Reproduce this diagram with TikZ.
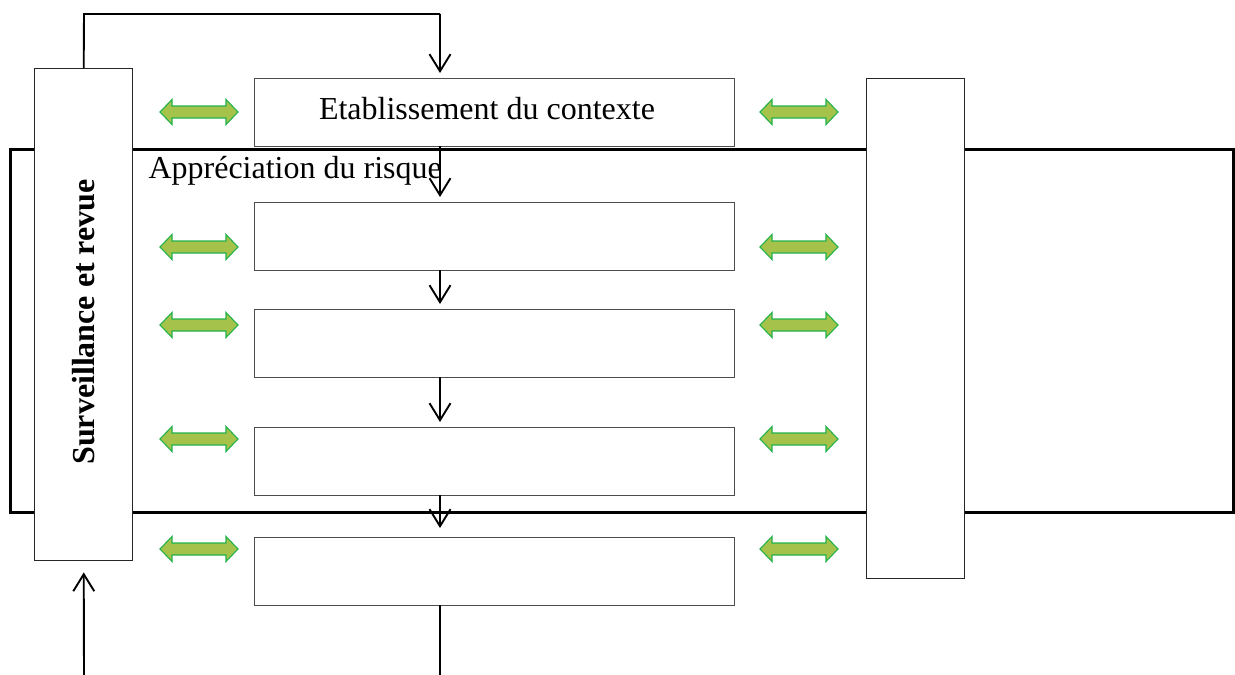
\documentclass[tikz,border=0pt]{standalone}
\usepackage{fontspec}
\setmainfont{Liberation Serif}
\usetikzlibrary{arrows.meta}
\definecolor{arrowfill}{HTML}{A5C24A}
\definecolor{arrowedge}{HTML}{22B24C}
\begin{document}
\begin{tikzpicture}[x=1pt,y=-1pt,
  stagebox/.style={draw=black!70,line width=1.4pt,fill=white,minimum width=480pt,minimum height=68pt,inner sep=0pt,anchor=north west},
  sidebox/.style={draw=black!85,line width=1.4pt,fill=white,inner sep=0pt,anchor=north west},
  flow/.style={line width=1.9pt,-{Straight Barb[length=17pt,width=21pt,line width=1.9pt]},shorten >=5pt},
  plain/.style={line width=1.9pt},
  exchange/.style={fill=arrowfill,draw=arrowedge,line width=1.1pt,line join=miter},
  lbl/.style={font=\fontsize{32}{36}\selectfont}
]
\tikzset{
  pics/exchangearrow/.style={code={
    \path[exchange] (-39,0) -- (-27,-12.5) -- (-27,-6) -- (27,-6) -- (27,-12.5)
      -- (39,0) -- (27,12.5) -- (27,6) -- (-27,6) -- (-27,12.5) -- cycle;
  }}
}
\useasboundingbox (0,0) rectangle (1235,675);

% frame of the risk assessment stage
\draw[line width=3pt] (10,149) rectangle (1233,512);

% side columns
\node[sidebox,minimum width=98pt,minimum height=492pt] (mon) at (34,68) {};
\node[sidebox,minimum width=98pt,minimum height=500pt] (com) at (866,78) {};
\node[lbl,font=\fontsize{32}{36}\selectfont\bfseries,rotate=90] (monlbl) at (84,322) {Surveillance et revue};

% process stages
\node[stagebox] (s1) at (254,78) {};
\node[lbl] (s1lbl) at (487,109) {Etablissement du contexte};
\node[stagebox] (s2) at (254,202) {};
\node[stagebox] (s3) at (254,309) {};
\node[stagebox] (s4) at (254,427) {};
\node[stagebox] (s5) at (254,537) {};
\node[lbl,anchor=base west] (assess) at (145,178) {Appréciation du risque};

% flow between stages
\coordinate (top) at (84,14);
\coordinate (topr) at (440,14);
\coordinate (bot) at (84,675);
\coordinate (out) at (440,675);
\draw[plain] (mon.north) -- (top) -- (topr);
\draw[flow] (topr) -- (440,78);
\draw[flow] (440,146) -- (440,202);
\draw[flow] (440,270) -- (440,309);
\draw[flow] (440,377) -- (440,427);
\draw[flow,shorten >=9pt] (440,495) -- (440,537);
\draw[plain] (440,605) -- (out);
\draw[flow,shorten >=11pt] (bot) -- (mon.south);

% exchanges with the side columns
\foreach \y [count=\i] in {112,247,325,439,549}{
  \pic (l\i) at (199,\y) {exchangearrow};
  \pic (r\i) at (799,\y) {exchangearrow};
}
\end{tikzpicture}
\end{document}
